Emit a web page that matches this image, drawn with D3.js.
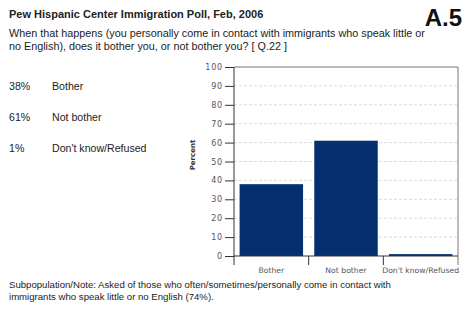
<!DOCTYPE html>
<html>
<head>
<meta charset="utf-8">
<script src="https://cdn.jsdelivr.net/npm/d3@7"></script>
<style>
  body { margin: 0; background: #fff; }
  svg { display: block; }
  .txt { font-family: "Liberation Sans", Arial, sans-serif; fill: #222; }
  .axis text { font-family: "DejaVu Sans", Verdana, sans-serif; font-size: 7.7px; fill: #555; }
</style>
</head>
<body>
<svg id="chart" width="465" height="311"></svg>
<script>
// chart data
const categories = ["Bother", "Not bother", "Don't know/Refused"];
const values = [38, 61, 1];
const yTicks = [0, 10, 20, 30, 40, 50, 60, 70, 80, 90, 100];

const titleText = "Pew Hispanic Center Immigration Poll, Feb, 2006";
const questionLines = [
    "When that happens (you personally come in contact with immigrants who speak little or",
    "no English), does it bother you, or not bother you? [ Q.22 ]"
];
const noteLines = [
    "Subpopulation/Note: Asked of those who often/sometimes/personally come in contact with",
    "immigrants who speak little or no English (74%)."
];

const svg = d3.select("#chart");

//plot box
const plot = { left: 234, right: 458, top: 67, bottom: 256 };

const x = d3.scaleBand()
    .domain(categories)
    .range([plot.left, plot.right])
    .paddingInner(0.15)
    .paddingOuter(0.075);

const y = d3.scaleLinear()
    .domain([0, 100])
    .range([plot.bottom, plot.top]);

//header texts
svg.append("text").attr("class", "txt")
    .attr("x", 9).attr("y", 18)
    .style("font-size", "11px").style("font-weight", "bold")
    .text(titleText);

svg.append("text").attr("class", "txt")
    .attr("x", 462).attr("y", 26)
    .attr("text-anchor", "end")
    .style("font-size", "24px").style("font-weight", "bold").style("fill", "#111")
    .text("A.5");

questionLines.forEach((line, i) => {
    svg.append("text").attr("class", "txt")
        .attr("x", 9).attr("y", 37 + i * 13)
        .style("font-size", "10.8px")
        .text(line);
});

//left side summary list
const list = svg.append("g");
categories.forEach((c, i) => {
    const yy = 90 + i * 31;
    list.append("text").attr("class", "txt")
        .attr("x", 9).attr("y", yy)
        .style("font-size", "10.6px")
        .text(values[i] + "%");
    list.append("text").attr("class", "txt")
        .attr("x", 52).attr("y", yy)
        .style("font-size", "10.6px")
        .text(c);
});

//gridlines (dashed)
svg.append("g")
    .selectAll("line")
    .data(yTicks.filter(d => d > 0 && d < 100))
    .enter()
    .append("line")
    .attr("x1", plot.left).attr("x2", plot.right)
    .attr("y1", d => y(d)).attr("y2", d => y(d))
    .attr("stroke", "#cfcfcf")
    .attr("stroke-width", 0.8)
    .attr("stroke-dasharray", "3,2");

//top and right border
svg.append("path")
    .attr("d", `M${plot.left},${plot.top}H${plot.right}V${plot.bottom + 9}`)
    .attr("fill", "none")
    .attr("stroke", "#777")
    .attr("stroke-width", 1);

//bars
svg.append("g")
    .selectAll("rect")
    .data(values)
    .enter()
    .append("rect")
    .attr("x", (d, i) => x(categories[i]))
    .attr("width", x.bandwidth())
    .attr("y", d => y(d))
    .attr("height", d => y(0) - y(d))
    .attr("fill", "#062f6f");

//y axis
const yAxis = svg.append("g")
    .attr("class", "axis")
    .attr("transform", `translate(${plot.left},0)`)
    .call(d3.axisLeft(y).tickValues(yTicks).tickSize(9).tickPadding(2));
yAxis.select(".domain").attr("stroke", "#333").attr("d", `M0,${plot.top}V${plot.bottom + 9}`);
yAxis.selectAll(".tick line").attr("stroke", "#333");
yAxis.selectAll(".tick text").style("font-size", "8px").style("letter-spacing", "0.8px");

//x axis with ticks between categories
const xAxis = svg.append("g")
    .attr("class", "axis")
    .attr("transform", `translate(0,${plot.bottom})`);
xAxis.append("line")
    .attr("x1", plot.left).attr("x2", plot.right)
    .attr("stroke", "#333");
const step = x.step();
const bounds = categories.map((c, i) => x(c) - x.paddingInner() * step / 2);
xAxis.selectAll(".sep")
    .data(bounds.slice(1))
    .enter()
    .append("line")
    .attr("x1", d => d).attr("x2", d => d)
    .attr("y1", 0).attr("y2", 9)
    .attr("stroke", "#333");
xAxis.selectAll(".lbl")
    .data(categories)
    .enter()
    .append("text")
    .attr("x", d => x(d) + x.bandwidth() / 2)
    .attr("y", 17)
    .attr("text-anchor", "middle")
    .text(d => d);

//y axis title
svg.append("text")
    .attr("transform", "translate(195,155) rotate(-90)")
    .attr("text-anchor", "middle")
    .style("font-family", "'DejaVu Sans', Verdana, sans-serif")
    .style("font-size", "7px")
    .style("font-weight", "bold")
    .style("fill", "#333")
    .text("Percent");

//note at the bottom
noteLines.forEach((line, i) => {
    svg.append("text").attr("class", "txt")
        .attr("x", 9).attr("y", 288 + i * 12)
        .style("font-size", "9.6px")
        .text(line);
});
</script>
</body>
</html>
